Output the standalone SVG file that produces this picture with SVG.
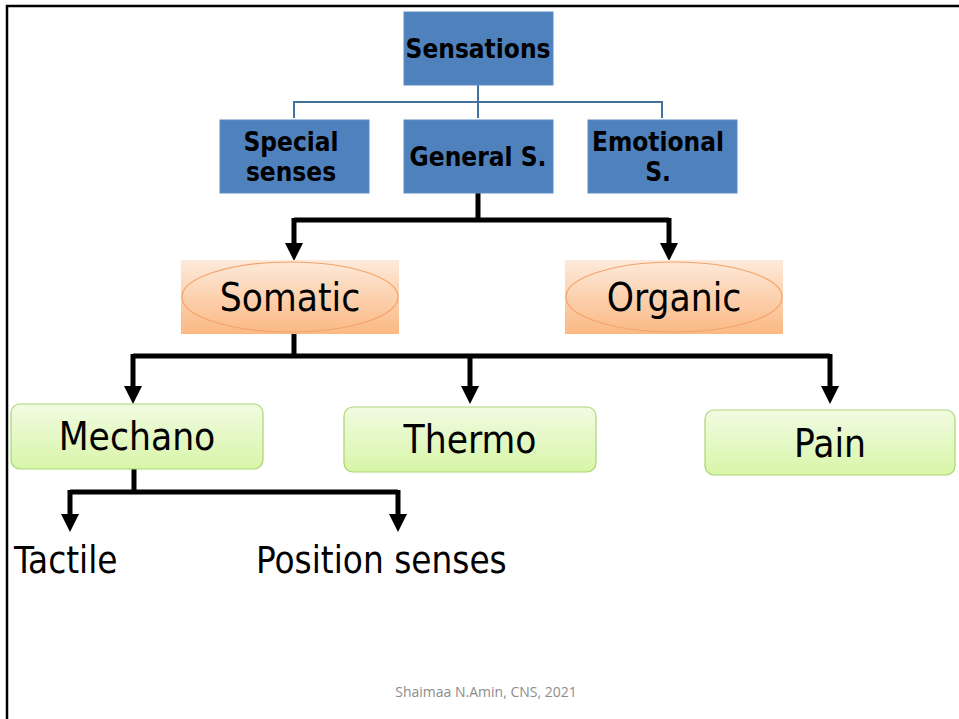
<svg xmlns="http://www.w3.org/2000/svg" width="959" height="719" viewBox="0 0 959 719">
<style>
.blue{fill:#4f81bd;stroke:#5b8cc6;stroke-width:1}
.bt{font-family:"DejaVu Sans Condensed","DejaVu Sans",sans-serif;font-weight:bold;font-size:26px;fill:#000;text-anchor:middle}
.rt{font-family:"DejaVu Sans Condensed","DejaVu Sans",sans-serif;font-size:38.5px;fill:#000;text-anchor:middle}
.lt{font-family:"DejaVu Sans Condensed","DejaVu Sans",sans-serif;font-size:36.5px;fill:#000}
.green{fill:url(#gg);stroke:#a9d672;stroke-width:1.2}
.orange{fill:url(#og)}
.ell{fill:none;stroke:#f4a36a;stroke-width:1.2}
.thick{fill:none;stroke:#000;stroke-width:5;stroke-linejoin:miter;stroke-linecap:butt}
.thin{fill:none;stroke:#41719c;stroke-width:2}
.foot{font-family:"Open Sans","Liberation Sans",sans-serif;font-size:14px;fill:#8c8c8c;text-anchor:middle}
</style>
<defs>
<linearGradient id="og" x1="0" y1="0" x2="0" y2="1">
<stop offset="0" stop-color="#fdeadb"/>
<stop offset="1" stop-color="#fbb883"/>
</linearGradient>
<linearGradient id="gg" x1="0" y1="0" x2="0" y2="1">
<stop offset="0" stop-color="#f1fbe2"/>
<stop offset="1" stop-color="#d8f5a8"/>
</linearGradient>
<marker id="ah" viewBox="0 0 18 18" refX="0" refY="9" markerWidth="18" markerHeight="18" markerUnits="userSpaceOnUse" orient="auto">
<path d="M0,0 L18,9 L0,18 z" fill="#000"/>
</marker>
</defs>
<rect x="0" y="0" width="959" height="719" fill="#fff"/>
<path d="M7,719 V6 H959" fill="none" stroke="#000" stroke-width="2.5"/>

<g id="connectors">
<path class="thin" d="M478,85 V102 M294,118 V102 H662 V118 M478,102 V118"/>
<path class="thick" d="M478,193 V220"/>
<path class="thick" d="M294,220 H669"/>
<path class="thick" d="M294,218 V243" marker-end="url(#ah)"/>
<path class="thick" d="M669,218 V243" marker-end="url(#ah)"/>
<path class="thick" d="M294,334 V356"/>
<path class="thick" d="M133,356 H830"/>
<path class="thick" d="M133,354 V386" marker-end="url(#ah)"/>
<path class="thick" d="M470,354 V386" marker-end="url(#ah)"/>
<path class="thick" d="M830,354 V386" marker-end="url(#ah)"/>
<path class="thick" d="M134,469 V492"/>
<path class="thick" d="M70,492 H398"/>
<path class="thick" d="M70,490 V514" marker-end="url(#ah)"/>
<path class="thick" d="M398,490 V514" marker-end="url(#ah)"/>
</g>

<g id="sensations">
<rect class="blue" x="404" y="12" width="149" height="73"/>
<text class="bt" x="478" y="58">Sensations</text>
</g>
<g id="special">
<rect class="blue" x="220" y="120" width="149" height="73"/>
<text class="bt" x="291" y="151">Special</text>
<text class="bt" x="291" y="181">senses</text>
</g>
<g id="general">
<rect class="blue" x="404" y="120" width="149" height="73"/>
<text class="bt" x="478" y="166">General S.</text>
</g>
<g id="emotional">
<rect class="blue" x="588" y="120" width="149" height="73"/>
<text class="bt" x="658" y="151">Emotional</text>
<text class="bt" x="658" y="181">S.</text>
</g>
<g id="somatic">
<rect class="orange" x="181" y="260" width="218" height="74"/>
<ellipse class="ell" cx="290" cy="297" rx="108" ry="35"/>
<text class="rt" x="290" y="311">Somatic</text>
</g>
<g id="organic">
<rect class="orange" x="565" y="260" width="218" height="74"/>
<ellipse class="ell" cx="674" cy="297" rx="108" ry="35"/>
<text class="rt" x="674" y="311">Organic</text>
</g>
<g id="mechano">
<rect class="green" x="11" y="404" width="252" height="65" rx="9"/>
<text class="rt" x="137" y="450">Mechano</text>
</g>
<g id="thermo">
<rect class="green" x="344" y="407" width="252" height="65" rx="9"/>
<text class="rt" x="470" y="453">Thermo</text>
</g>
<g id="pain">
<rect class="green" x="705" y="410" width="250" height="65" rx="9"/>
<text class="rt" x="830" y="457">Pain</text>
</g>
<g id="tactile">
<text class="lt" x="14" y="573">Tactile</text>
</g>
<g id="position">
<text class="lt" x="256" y="573">Position senses</text>
</g>
<text class="foot" x="486" y="697">Shaimaa N.Amin, CNS, 2021</text>
</svg>
